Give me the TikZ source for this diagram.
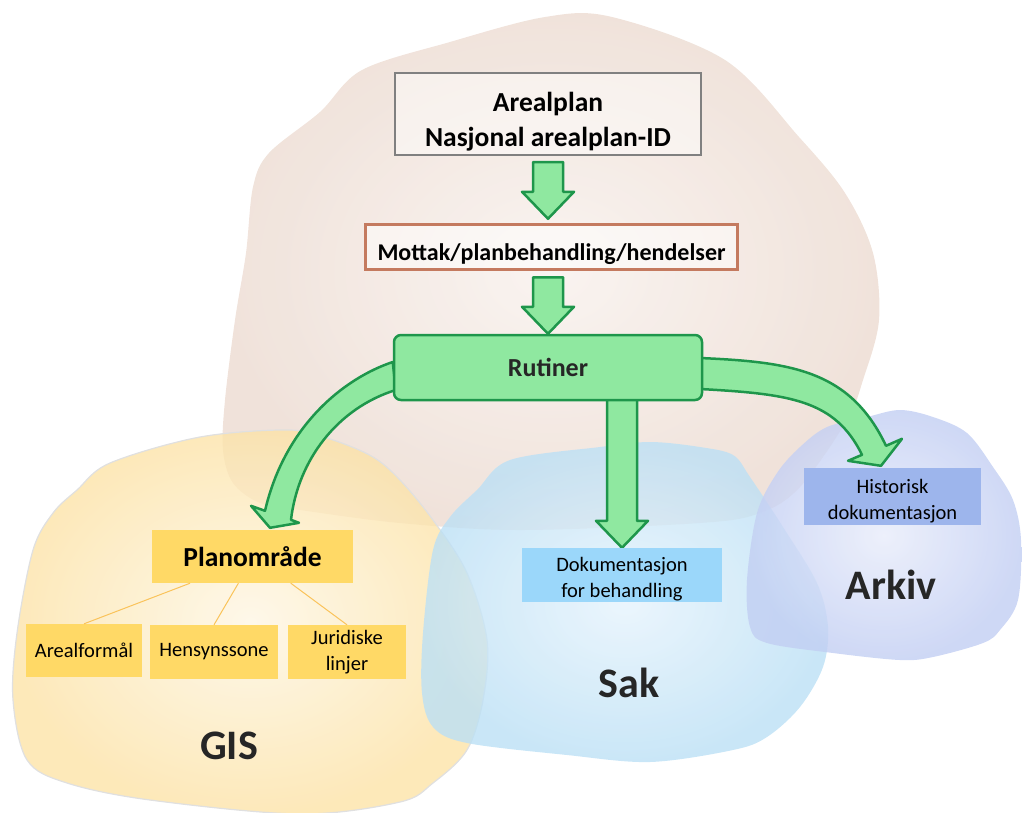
\documentclass[tikz,border=0pt]{standalone}
\usepackage{fontspec}
\setmainfont{Carlito}
\usetikzlibrary{calc, backgrounds}

\definecolor{gronnfyll}{RGB}{143,232,160}
\definecolor{gronnkant}{RGB}{30,150,75}
\definecolor{brunkant}{RGB}{196,122,95}
\definecolor{gulboks}{RGB}{255,217,102}
\definecolor{blaboks}{RGB}{155,215,250}
\definecolor{lillaboks}{RGB}{157,181,236}
\definecolor{morktekst}{RGB}{38,38,38}
\definecolor{trelinje}{RGB}{250,195,90}

% rett blokkpil ned: fra #1 (start skaft) til #2 (spiss)
\newcommand{\blokkpil}[2]{%
  \draw[blokk] let \p1=(#1), \p2=(#2) in
    (\x2-15pt,\y1) -- (\x2-15pt,\y2+27pt) -- (\x2-26pt,\y2+27pt) -- (\x2,\y2)
    -- (\x2+26pt,\y2+27pt) -- (\x2+15pt,\y2+27pt) -- (\x2+15pt,\y1) -- cycle;}

\begin{document}
\begin{tikzpicture}[x=1pt, y=-1pt,
  blokk/.style={fill=gronnfyll, draw=gronnkant, line width=2.5pt, line join=round},
  sky/.style={opacity=0.8},
  stor/.style={font=\fontsize{27.5}{35}\selectfont\bfseries},
  liten/.style={font=\fontsize{20.5}{26}\selectfont},
  etikett/.style={font=\fontsize{42}{50}\selectfont\bfseries, text=morktekst},
  boks/.style={inner sep=0pt, align=center},
  tre/.style={draw=trelinje, line width=1pt}]
  \useasboundingbox (0,0) rectangle (1022,812);

  % skyene
  \begin{pgfonlayer}{background}
    \shade[sky, inner color={rgb,255:red,248;green,241;blue,237}, outer color={rgb,255:red,236;green,219;blue,209}]
      plot[smooth cycle, tension=0.55] coordinates {(545,17) (612,17) (725,60) (799,137) (845,193)
      (873,253) (879,320) (863,380) (847,420) (800,487) (760,513) (700,523) (520,530) (400,523)
      (300,510) (260,503) (233,483) (223,450) (225,400) (235,320) (246,253) (253,187) (269,153)
      (320,112) (362,70) (450,42)};
    \shade[sky, inner color={rgb,255:red,254;green,246;blue,228}, outer color={rgb,255:red,252;green,227;blue,168}]
      plot[smooth cycle, tension=0.55] coordinates {(110,463) (200,437) (290,430) (333,440) (373,457)
      (400,480) (433,520) (467,573) (487,640) (483,700) (467,750) (433,783) (400,802) (300,814)
      (150,800) (67,783) (27,760) (13,700) (17,633) (33,550) (53,513) (77,490)};
    \draw[black!12, line width=1.2pt]
      plot[smooth cycle, tension=0.55] coordinates {(110,463) (200,437) (290,430) (333,440) (373,457)
      (400,480) (433,520) (467,573) (487,640) (483,700) (467,750) (433,783) (400,802) (300,814)
      (150,800) (67,783) (27,760) (13,700) (17,633) (33,550) (53,513) (77,490)};
    \shade[sky, inner color={rgb,255:red,230;green,243;blue,252}, outer color={rgb,255:red,188;green,224;blue,245}]
      plot[smooth cycle, tension=0.55] coordinates {(510,460) (600,447) (650,442) (700,447) (733,455)
      (750,477) (783,527) (817,583) (828,627) (823,667) (800,707) (767,737) (733,750) (650,762)
      (567,755) (467,743) (433,727) (422,693) (423,633) (433,550) (450,517) (477,490)};
    \shade[sky, inner color={rgb,255:red,232;green,236;blue,250}, outer color={rgb,255:red,194;green,206;blue,243}]
      plot[smooth cycle, tension=0.55] coordinates {(800,447) (827,427) (867,417) (900,410) (933,417)
      (967,433) (993,467) (1013,500) (1021,540) (1018,600) (1000,630) (983,643) (933,657) (900,660)
      (833,653) (767,643) (750,627) (747,580) (757,513) (777,473)};
  \end{pgfonlayer}

  % boksene
  \node[boks, stor, draw=black!50, line width=2pt, fill=white, fill opacity=0.45, text opacity=1,
    minimum width=306pt, minimum height=82pt, text height=64pt, text depth=0pt] (areal) at (548,114)
    {Arealplan\\Nasjonal arealplan-ID};
  \node[boks, font=\fontsize{24}{28}\selectfont\bfseries, draw=brunkant, line width=3.5pt, fill=white,
    fill opacity=0.5, text opacity=1, minimum width=372pt, minimum height=45pt, text height=26pt,
    text depth=0pt] (mottak) at (551.5,247) {Mottak/planbehandling/hendelser};
  \node[boks, font=\fontsize{26}{30}\selectfont\bfseries, text=morktekst, draw=gronnkant, line width=2.5pt,
    fill=gronnfyll, rounded corners=7pt, minimum width=308pt, minimum height=65pt] (rutiner) at (548,367.5) {Rutiner};

  \node[boks, stor, fill=gulboks, minimum width=201pt, minimum height=53pt] (plan) at (252.5,556.5) {Planområde};
  \node[boks, liten, fill=gulboks, minimum width=116pt, minimum height=53pt] (arealf) at (84,650.5) {Arealformål};
  \node[boks, liten, fill=gulboks, minimum width=128pt, minimum height=54pt] (hensyn) at (214,652) {Hensynssone};
  \node[boks, liten, fill=gulboks, minimum width=118pt, minimum height=54pt] (jurid) at (347,652) {Juridiske\\linjer};
  \node[boks, liten, fill=blaboks, minimum width=200pt, minimum height=54pt, text height=45pt, text depth=0pt]
    (dok) at (622,575) {Dokumentasjon\\for behandling};
  \node[boks, liten, fill=lillaboks, minimum width=177pt, minimum height=57pt, text height=45pt, text depth=0pt]
    (hist) at (892.5,496.5) {Historisk\\dokumentasjon};

  \node[etikett] (gis) at (229,746) {GIS};
  \node[etikett] (sak) at (629,683) {Sak};
  \node[etikett] (arkiv) at (891,585) {Arkiv};

  % linjer i treet
  \draw[tre] ($(plan.south west)!0.19!(plan.south east)$) -- (arealf.north);
  \draw[tre] ($(plan.south west)!0.43!(plan.south east)$) -- (hensyn.north);
  \draw[tre] ($(plan.south west)!0.69!(plan.south east)$) -- (jurid.north);

  % piler
  \begin{pgfonlayer}{background}
    \blokkpil{$(areal.south)+(0,6)$}{$(mottak.north -| areal.south)+(0,-4)$}
    \blokkpil{$(mottak.south -| rutiner.north)+(0,6)$}{rutiner.north}
    \blokkpil{$(rutiner.south -| dok.north)+(0,-3)$}{dok.north}
    % buet pil til GIS
    \draw[blokk] ($(rutiner.west)+(0,-5.5)$) .. controls +(-48,16) and +(20,-86) .. ($(plan.north)+(12.5,-19)$)
      -- ($(plan.north)+(-1.5,-24)$) -- ($(plan.north)+(17.5,-2)$) -- ($(plan.north)+(46.5,-7)$)
      -- ($(plan.north)+(38.5,-10)$) .. controls +(7,-60) and +(-58,18) .. ($(rutiner.west)+(3,22.5)$) -- cycle;
    % buet pil til arkiv
    \draw[blokk] ($(rutiner.east)+(-3,-9.5)$) .. controls +(90,4) and +(-36,-76) .. ($(hist.north)+(-6.5,-22)$)
      -- ($(hist.north)+(9.5,-29)$) -- ($(hist.north)+(-11.5,-2)$) -- ($(hist.north)+(-44.5,-7)$)
      -- ($(hist.north)+(-30.5,-13)$) .. controls +(-27,-55) and +(90,5) .. ($(rutiner.east)+(-3,21.5)$) -- cycle;
  \end{pgfonlayer}
\end{tikzpicture}
\end{document}
